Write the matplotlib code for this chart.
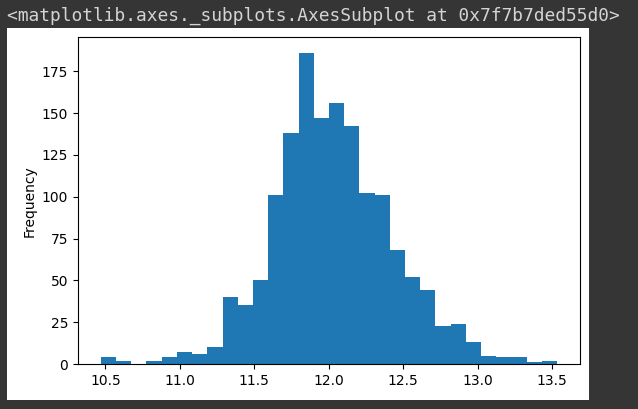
import numpy as np
import matplotlib
matplotlib.use("Agg")
import matplotlib.pyplot as plt
from matplotlib.patches import Rectangle

# Histogram data (30 bins)
bin_min = 10.469
bin_max = 13.534
counts = [4, 2, 0, 2, 4, 7, 6, 10, 40, 35,
          50, 101, 138, 186, 147, 156, 142, 102, 101, 68,
          52, 44, 23, 24, 13, 5, 4, 4, 1, 2]
ylabel = "Frequency"
header = "<matplotlib.axes._subplots.AxesSubplot at 0x7f7b7ded55d0>"

W, H = 638, 409
fig = plt.figure(figsize=(W / 100, H / 100), dpi=100)
fig.patch.set_facecolor("#353535")

# white figure area of the notebook output
x0, y0, x1, y1 = 6.7, 28.3, 589, 400
fig.patches.append(Rectangle((x0 / W, 1 - y1 / H), (x1 - x0) / W, (y1 - y0) / H,
                             transform=fig.transFigure, facecolor="white",
                             edgecolor="none", zorder=-10))

fig.text(6.7 / W, 1 - 20.7 / H, header, family="DejaVu Sans Mono",
         fontsize=12.9, color="#d4d4d4", va="baseline", ha="left")

ax_l, ax_r, ax_t, ax_b = 78, 580, 37.3, 364
ax = fig.add_axes([ax_l / W, 1 - ax_b / H, (ax_r - ax_l) / W, (ax_b - ax_t) / H])
ax.set_zorder(1)

edges = np.linspace(bin_min, bin_max, len(counts) + 1)
centers = (edges[:-1] + edges[1:]) / 2
ax.hist(centers, bins=edges, weights=counts, color="#1f77b4")
ax.set_ylabel(ylabel)
ax.set_yticks([0, 25, 50, 75, 100, 125, 150, 175])
ax.set_xticks([10.5, 11.0, 11.5, 12.0, 12.5, 13.0, 13.5])

fig.savefig("out.png", dpi=100, facecolor=fig.get_facecolor())
